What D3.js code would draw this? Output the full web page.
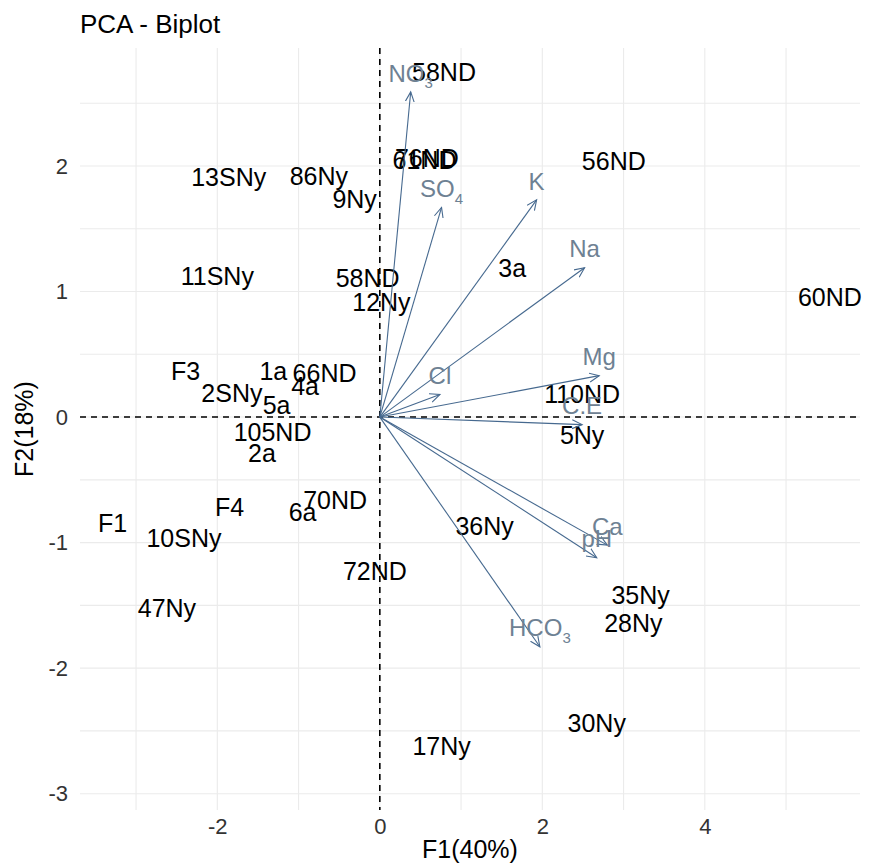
<!DOCTYPE html>
<html>
<head>
<meta charset="utf-8">
<script src="https://cdn.jsdelivr.net/npm/d3@7"></script>
<style>
  body { margin: 0; background: #fff; }
  text { font-family: "Liberation Sans", Arial, sans-serif; }
</style>
</head>
<body>
<div id="biplot"></div>
<script>
// Individuals (label text and coordinates on F1 / F2)
var pointNames = ["58ND", "76ND", "61ND", "56ND", "13SNy", "86Ny", "9Ny", "11SNy", "58ND", "12Ny",
  "3a", "60ND", "F3", "1a", "66ND", "4a", "2SNy", "5a", "105ND", "2a",
  "110ND", "5Ny", "70ND", "6a", "F4", "F1", "10SNy", "36Ny", "72ND", "47Ny",
  "35Ny", "28Ny", "30Ny", "17Ny"];
var pointF1 = [0.79, 0.58, 0.55, 2.88, -1.86, -0.75, -0.31, -2.0, -0.15, 0.02,
  1.63, 5.54, -2.39, -1.31, -0.68, -0.92, -1.82, -1.27, -1.32, -1.45,
  2.49, 2.49, -0.55, -0.95, -1.85, -3.29, -2.41, 1.29, -0.06, -2.62,
  3.21, 3.12, 2.67, 0.76];
var pointF2 = [2.75, 2.06, 2.05, 2.04, 1.91, 1.92, 1.74, 1.12, 1.11, 0.92,
  1.19, 0.96, 0.37, 0.37, 0.35, 0.25, 0.19, 0.10, -0.12, -0.29,
  0.18, -0.14, -0.66, -0.76, -0.72, -0.84, -0.96, -0.87, -1.23, -1.52,
  -1.42, -1.64, -2.44, -2.62];

// Variables (arrow tips); sub = subscript part of the name
var varNames = ["NO", "SO", "K", "Na", "Mg", "Cl", "C.E", "Ca", "pH", "HCO"];
var varSubs  = ["3", "4", "", "", "", "", "", "", "", "3"];
var varF1 = [0.38, 0.76, 1.93, 2.52, 2.70, 0.74, 2.49, 2.80, 2.67, 1.97];
var varF2 = [2.59, 1.67, 1.73, 1.19, 0.33, 0.18, -0.06, -1.02, -1.12, -1.83];

// Axis ticks
var xTicks = [-2, 0, 2, 4];
var yTicks = [-3, -2, -1, 0, 1, 2];

var W = 869, H = 864;
var margin = { top: 48, right: 9, bottom: 54, left: 80 };
var width = W - margin.left - margin.right,
    height = H - margin.top - margin.bottom;

var svg = d3.select("#biplot")
  .append("svg")
    .attr("width", W)
    .attr("height", H);

var g = svg.append("g")
    .attr("transform", "translate(" + margin.left + "," + margin.top + ")");

var x = d3.scaleLinear().domain([-3.69, 5.91]).range([0, width]);
var y = d3.scaleLinear().domain([-3.13, 2.94]).range([height, 0]);

// grid (major + minor)
g.append("g").selectAll("line")
  .data(d3.range(-3, 6, 1))
  .enter().append("line")
    .attr("x1", function(d) { return x(d); })
    .attr("x2", function(d) { return x(d); })
    .attr("y1", 0).attr("y2", height)
    .attr("stroke", "#ebebeb").attr("stroke-width", 1.1);

g.append("g").selectAll("line")
  .data(d3.range(-3, 2.51, 0.5))
  .enter().append("line")
    .attr("y1", function(d) { return y(d); })
    .attr("y2", function(d) { return y(d); })
    .attr("x1", 0).attr("x2", width)
    .attr("stroke", "#ebebeb").attr("stroke-width", 1.1);

// axes (plain hyphen for negatives, like the original)
var fmt = function(d) { return String(d); };
var xAxis = g.append("g")
  .attr("transform", "translate(0," + height + ")")
  .call(d3.axisBottom(x).tickValues(xTicks).tickSize(0).tickPadding(8).tickFormat(fmt));
var yAxis = g.append("g")
  .call(d3.axisLeft(y).tickValues(yTicks).tickSize(0).tickPadding(12).tickFormat(fmt));
[xAxis, yAxis].forEach(function(a) {
  a.select(".domain").remove();
  a.selectAll("text")
    .attr("font-size", "22px")
    .attr("fill", "#333")
    .style("font-family", "'Liberation Sans', Arial, sans-serif");
});
xAxis.selectAll("text").attr("dy", "0.71em");

// dashed reference lines
g.append("line")
  .attr("x1", 0).attr("x2", width)
  .attr("y1", y(0)).attr("y2", y(0))
  .attr("stroke", "#000").attr("stroke-width", 1.6)
  .attr("stroke-dasharray", "6,5");
g.append("line")
  .attr("x1", x(0)).attr("x2", x(0))
  .attr("y1", 0).attr("y2", height)
  .attr("stroke", "#000").attr("stroke-width", 1.6)
  .attr("stroke-dasharray", "6,5");

// individuals labels
g.append("g").selectAll("text")
  .data(pointNames)
  .enter().append("text")
    .attr("x", function(d, i) { return x(pointF1[i]); })
    .attr("y", function(d, i) { return y(pointF2[i]); })
    .attr("dy", "0.36em")
    .attr("text-anchor", "middle")
    .attr("font-size", "25px")
    .attr("fill", "#000")
    .text(function(d) { return d; });

// arrow head marker
svg.append("defs").append("marker")
  .attr("id", "head")
  .attr("markerUnits", "userSpaceOnUse")
  .attr("markerWidth", 12).attr("markerHeight", 12)
  .attr("refX", 10).attr("refY", 5)
  .attr("orient", "auto")
  .append("path")
    .attr("d", "M0,0.5 L10,5 L0,9.5")
    .attr("fill", "none")
    .attr("stroke", "#46698f")
    .attr("stroke-width", 1.1);

// variable arrows
g.append("g").selectAll("line")
  .data(varNames)
  .enter().append("line")
    .attr("x1", x(0)).attr("y1", y(0))
    .attr("x2", function(d, i) { return x(varF1[i]); })
    .attr("y2", function(d, i) { return y(varF2[i]); })
    .attr("stroke", "#46698f")
    .attr("stroke-width", 1.1)
    .attr("marker-end", "url(#head)");

var vlab = g.append("g").selectAll("text")
  .data(varNames)
  .enter().append("text")
    .attr("x", function(d, i) { return x(varF1[i]); })
    .attr("y", function(d, i) { return y(varF2[i]) - 19; })
    .attr("dy", "0.36em")
    .attr("text-anchor", "middle")
    .attr("font-size", "24px")
    .attr("fill", "#6e8193");
vlab.append("tspan").text(function(d) { return d; });
vlab.append("tspan")
  .attr("font-size", "15px")
  .attr("dy", "0.45em")
  .text(function(d, i) { return varSubs[i]; });

// titles
svg.append("text")
  .attr("x", margin.left).attr("y", 33)
  .attr("font-size", "26px").attr("fill", "#000")
  .text("PCA - Biplot");

svg.append("text")
  .attr("x", margin.left + width / 2).attr("y", 858)
  .attr("text-anchor", "middle")
  .attr("font-size", "25px").attr("fill", "#000")
  .text("F1(40%)");

svg.append("text")
  .attr("transform", "translate(33," + (margin.top + height / 2) + ") rotate(-90)")
  .attr("text-anchor", "middle")
  .attr("font-size", "25px").attr("fill", "#000")
  .text("F2(18%)");
</script>
</body>
</html>
